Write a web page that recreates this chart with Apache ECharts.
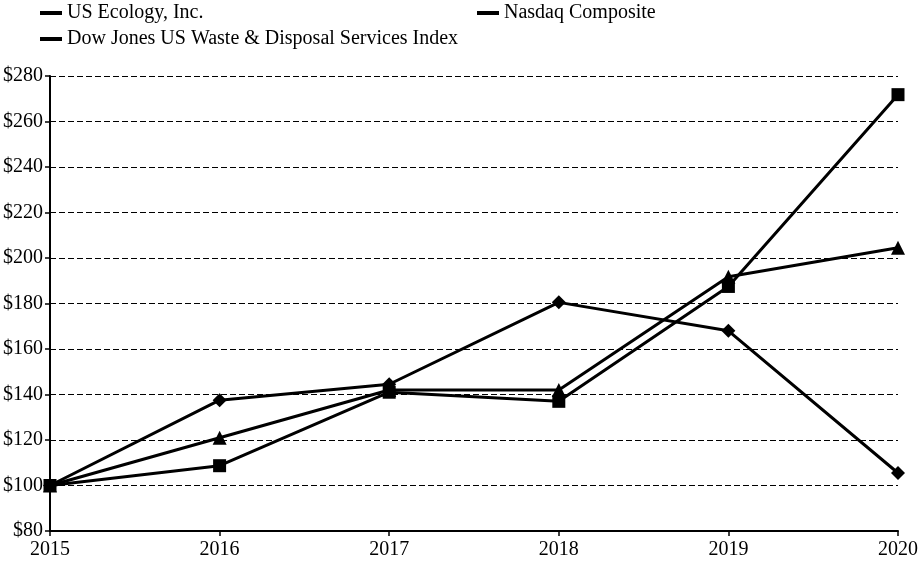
<!DOCTYPE html>
<html><head><meta charset="utf-8">
<script src="https://cdn.jsdelivr.net/npm/echarts@6/dist/echarts.min.js"></script>
<style>html,body{margin:0;padding:0;background:#fff}#c{width:923px;height:562px}</style>
</head><body><div id="c"></div>
<script>
const years = ['2015','2016','2017','2018','2019','2020'];
const usEcology = [100, 137.5, 144.5, 180.5, 168, 105.5];
const nasdaq = [100, 108.7, 141, 137, 187.5, 271.8];
const dowJones = [100, 121, 142, 142, 191.8, 204.5];
const names = ['US Ecology, Inc.', 'Nasdaq Composite', 'Dow Jones US Waste & Disposal Services Index'];

const font = '"Liberation Serif", "Times New Roman", serif';
const chart = echarts.init(document.getElementById('c'));
const legendBase = {icon:'rect', itemWidth:22, itemHeight:4, itemGap:10, textStyle:{fontFamily:font, fontSize:20, color:'#000', padding:[0,0,0,0]}, selectedMode:false, orient:'horizontal', padding:0};
chart.setOption({
  animation:false,
  legend:[
    Object.assign({left:40, top:3, data:[names[0]]}, legendBase),
    Object.assign({left:477, top:3, data:[names[1]]}, legendBase),
    Object.assign({left:40, top:29, data:[names[2]]}, legendBase)
  ],
  grid:{left:48, right:25, top:76, bottom:31, containLabel:false},
  xAxis:{type:'category', data:years, boundaryGap:false,
    axisLine:{lineStyle:{color:'#000', width:2}},
    axisTick:{show:true, length:5, lineStyle:{color:'#000', width:1.5}},
    axisLabel:{fontFamily:font, fontSize:20, color:'#000', margin:9}},
  yAxis:{type:'value', min:80, max:280, interval:20,
    axisLine:{show:true, lineStyle:{color:'#000', width:2}},
    axisTick:{show:true, length:5, lineStyle:{color:'#000', width:1.5}},
    axisLabel:{fontFamily:font, fontSize:20, color:'#000', margin:7, formatter:v=>'$'+v},
    splitLine:{show:true, lineStyle:{color:'#000', type:[6,3], width:1}}},
  series:[
    {name:names[0], type:'line', data:usEcology, symbol:'diamond', symbolSize:14,
      lineStyle:{color:'#000', width:3}, itemStyle:{color:'#000'}},
    {name:names[1], type:'line', data:nasdaq, symbol:'rect', symbolSize:13,
      lineStyle:{color:'#000', width:3}, itemStyle:{color:'#000'}},
    {name:names[2], type:'line', data:dowJones, symbol:'triangle', symbolSize:14,
      lineStyle:{color:'#000', width:3}, itemStyle:{color:'#000'}}
  ]
});
</script></body></html>
